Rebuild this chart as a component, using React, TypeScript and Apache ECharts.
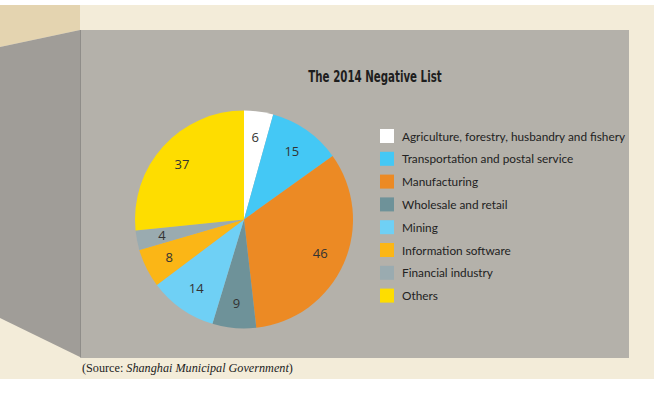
import React, { useEffect, useRef } from "react";
import * as echarts from "echarts";

const categories = [
  "Agriculture, forestry, husbandry and fishery",
  "Transportation and postal service",
  "Manufacturing",
  "Wholesale and retail",
  "Mining",
  "Information software",
  "Financial industry",
  "Others",
];
const values = [6, 15, 46, 9, 14, 8, 4, 37];
const colors = ["#ffffff", "#44c8f5", "#ec8a24", "#6e9299", "#6fd0f5", "#fbb616", "#9aabb0", "#fedd00"];
const title = "The 2014 Negative List";

export default function App() {
  const ref = useRef<HTMLDivElement>(null);
  useEffect(() => {
    if (!ref.current) return;
    const chart = echarts.init(ref.current, null, { renderer: "svg" });
    const data = categories.map((name, i) => ({ name, value: values[i], itemStyle: { color: colors[i] } }));
    chart.setOption({
      animation: false,
      backgroundColor: "#ffffff",
      graphic: [
        { type: "rect", z: -10, shape: { x: 0, y: 5, width: 654, height: 374 }, style: { fill: "#f3ecd9" } },
        { type: "polygon", z: -9, shape: { points: [[0, 5], [80, 5], [80, 30], [0, 47]] }, style: { fill: "#e4d4b0" } },
        { type: "polygon", z: -9, shape: { points: [[0, 47], [80, 30], [80, 357], [0, 318]] }, style: { fill: "#a09d98" } },
        { type: "rect", z: -9, shape: { x: 80, y: 30, width: 549, height: 328 }, style: { fill: "#b4b1aa" } },
        { type: "line", z: -8, shape: { x1: 80.5, y1: 30, x2: 80.5, y2: 357 }, style: { stroke: "#8f8d89", lineWidth: 1 } },
        {
          type: "text",
          x: 375,
          y: 77,
          scaleX: 0.76,
          style: {
            text: title,
            fill: "#1e1e1e",
            font: "bold 15px 'DejaVu Sans Condensed', 'DejaVu Sans', sans-serif",
            align: "center",
            verticalAlign: "middle",
          },
        },
        {
          type: "text",
          x: 82,
          y: 368,
          style: {
            text: "{a|(Source: }{b|Shanghai Municipal Government}{a|)}",
            verticalAlign: "middle",
            rich: {
              a: { fontFamily: "'Liberation Serif', serif", fontSize: 12.2, fill: "#222", color: "#222" },
              b: { fontFamily: "'Liberation Serif', serif", fontSize: 12.2, fontStyle: "italic", fill: "#222", color: "#222" },
            },
          },
        },
      ],
      legend: {
        orient: "vertical",
        left: 375,
        top: 124,
        itemWidth: 14,
        itemHeight: 14,
        itemGap: 8.8,
        icon: "rect",
        data: categories,
        textStyle: { fontFamily: "Lato, sans-serif", fontSize: 11.8, color: "#222", lineHeight: 14, padding: [0, 0, 0, 3] },
      },
      series: [
        {
          type: "pie",
          center: [244, 219.5],
          radius: [0, 109],
          startAngle: 90,
          data,
          label: { show: false },
          labelLine: { show: false },
          itemStyle: { borderWidth: 0 },
          emphasis: { disabled: true },
        },
        {
          type: "pie",
          center: [244, 219.5],
          radius: [52, 109],
          startAngle: 90,
          silent: true,
          legendHoverLink: false,
          data: categories.map((name, i) => ({ name: name + " ", value: values[i] })),
          itemStyle: { color: "rgba(0,0,0,0)", borderWidth: 0 },
          label: {
            show: true,
            position: "inside",
            formatter: "{c}",
            fontFamily: "'Open Sans', sans-serif",
            fontSize: 13,
            color: "#333",
          },
          labelLine: { show: false },
          emphasis: { disabled: true },
        },
      ],
    });
    return () => chart.dispose();
  }, []);
  return <div ref={ref} style={{ position: "absolute", left: 0, top: 0, width: 655, height: 393 }} />;
}
